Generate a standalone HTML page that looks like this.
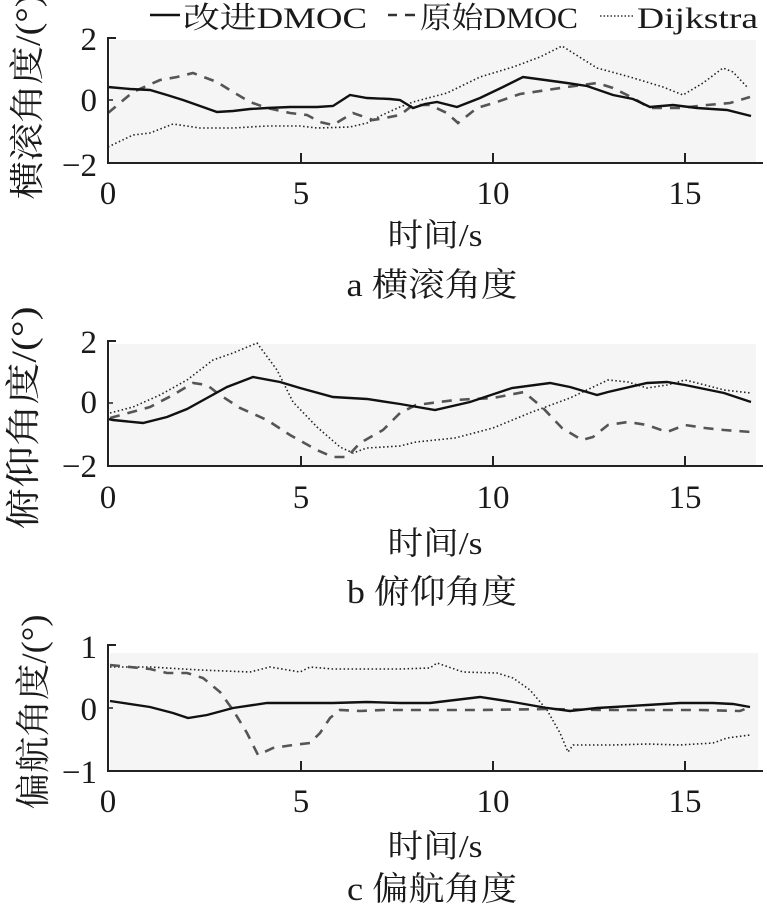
<!DOCTYPE html>
<html><head><meta charset="utf-8">
<style>
html,body{margin:0;padding:0;background:#fff;}
svg{display:block;}
.t{font-family:"Liberation Serif","Noto Serif CJK SC",serif;fill:#1a1a1a;}
</style></head>
<body>
<svg width="767" height="909" viewBox="0 0 767 909" xmlns="http://www.w3.org/2000/svg">
<!-- Legend -->
<line x1="150" y1="15" x2="180" y2="15" stroke="#111" stroke-width="2.5"/>
<text class="t" x="183" y="28" font-size="30" textLength="184" lengthAdjust="spacingAndGlyphs">改进DMOC</text>
<line x1="388" y1="15" x2="397" y2="15" stroke="#333" stroke-width="2.5"/>
<line x1="405" y1="15" x2="415" y2="15" stroke="#333" stroke-width="2.5"/>
<text class="t" x="420" y="28" font-size="30" textLength="158" lengthAdjust="spacingAndGlyphs">原始DMOC</text>
<line x1="600" y1="16" x2="634" y2="16" stroke="#333" stroke-width="1.5" stroke-dasharray="1.5,2"/>
<text class="t" x="637" y="28" font-size="30" textLength="121" lengthAdjust="spacingAndGlyphs">Dijkstra</text>

<!-- ===== Panel a ===== -->
<rect x="110" y="40" width="646" height="122" fill="#f5f5f5"/>
<polyline fill="none" stroke="#222" stroke-width="1.6" stroke-dasharray="1.5,2.5" points="108,147 133,135 150,133 173,124 200,128 233,128 267,126 300,126 317,128 350,127 367,123 380,116 400,107 413,102 447,93 480,77 513,67 540,57 562,46 597,68 630,77 663,87 683,95 703,83 723,68 733,72 748,88"/>
<polyline fill="none" stroke="#555" stroke-width="2.6" stroke-dasharray="10,8" points="108,113 133,92 160,80 177,77 193,73 217,82 233,92 250,102 267,108 290,113 307,115 320,122 333,125 353,113 373,120 385,118 400,115 413,105 430,105 447,113 458,123 477,108 497,102 520,94 547,90 567,87 597,83 613,88 633,98 650,108 680,108 707,105 730,103 750,97"/>
<polyline fill="none" stroke="#111" stroke-width="2.4" points="108,87 130,89 150,90 167,95 183,100 200,106 217,112 233,111 250,109 267,108 290,107 317,107 333,106 350,95 367,98 390,99 400,100 413,108 425,104 437,102 457,107 480,98 503,87 523,77 545,80 567,83 587,86 613,95 633,99 650,107 673,105 697,108 727,110 751,116"/>
<line x1="108" y1="37" x2="108" y2="164" stroke="#222" stroke-width="2"/>
<line x1="107" y1="163" x2="763" y2="163" stroke="#222" stroke-width="2"/>
<line x1="108" y1="38" x2="116" y2="38" stroke="#222" stroke-width="2"/>
<line x1="108" y1="100" x2="113" y2="100" stroke="#222" stroke-width="1.5"/>
<line x1="301" y1="163" x2="301" y2="153" stroke="#222" stroke-width="2"/>
<line x1="493" y1="163" x2="493" y2="153" stroke="#222" stroke-width="2"/>
<line x1="685" y1="163" x2="685" y2="153" stroke="#222" stroke-width="2"/>
<g class="t" font-size="33" text-anchor="middle">
<text x="108" y="204">0</text><text x="301" y="204">5</text><text x="493" y="204">10</text><text x="685" y="204">15</text>
</g>
<g class="t" font-size="33" text-anchor="end">
<text x="97" y="50">2</text><text x="97" y="111">0</text><text x="97" y="176">−2</text>
</g>
<text class="t" x="435" y="246" font-size="32" text-anchor="middle" textLength="95" lengthAdjust="spacingAndGlyphs">时间/s</text>
<text class="t" x="432" y="296" font-size="33" text-anchor="middle" textLength="171" lengthAdjust="spacingAndGlyphs">a 横滚角度</text>
<text class="t" transform="translate(28,97) rotate(-90)" font-size="35" text-anchor="middle" dominant-baseline="central" textLength="205" lengthAdjust="spacingAndGlyphs">横滚角度/(°)</text>

<!-- ===== Panel b ===== -->
<rect x="110" y="344" width="646" height="121" fill="#f5f5f5"/>
<polyline fill="none" stroke="#222" stroke-width="1.6" stroke-dasharray="1.5,2.5" points="110,413 133,407 160,395 187,380 213,360 233,353 257,343 277,370 293,402 317,427 340,447 353,453 367,448 400,446 416,442 455,438 493,428 532,412 570,398 608,380 628,382 647,388 667,385 685,380 705,385 724,390 751,393"/>
<polyline fill="none" stroke="#555" stroke-width="2.6" stroke-dasharray="10,8" points="110,418 150,407 173,395 193,383 207,385 220,395 240,408 267,420 290,435 317,450 333,457 347,457 360,443 383,430 400,413 416,405 455,400 493,398 524,392 543,408 562,428 582,440 593,437 608,425 628,422 647,425 667,432 685,425 705,428 724,430 751,432"/>
<polyline fill="none" stroke="#111" stroke-width="2.4" points="108,419 113,420 143,423 167,417 187,409 207,398 227,387 253,377 280,382 300,388 333,397 367,399 400,404 435,410 470,402 512,388 550,383 570,387 597,395 608,392 647,383 667,382 685,385 724,393 751,402"/>
<line x1="108" y1="340" x2="108" y2="467" stroke="#222" stroke-width="2"/>
<line x1="107" y1="466" x2="763" y2="466" stroke="#222" stroke-width="2"/>
<line x1="108" y1="341" x2="116" y2="341" stroke="#222" stroke-width="2"/>
<line x1="108" y1="403" x2="113" y2="403" stroke="#222" stroke-width="1.5"/>
<line x1="301" y1="466" x2="301" y2="456" stroke="#222" stroke-width="2"/>
<line x1="493" y1="466" x2="493" y2="456" stroke="#222" stroke-width="2"/>
<line x1="685" y1="466" x2="685" y2="456" stroke="#222" stroke-width="2"/>
<g class="t" font-size="33" text-anchor="middle">
<text x="108" y="508">0</text><text x="301" y="508">5</text><text x="493" y="508">10</text><text x="685" y="508">15</text>
</g>
<g class="t" font-size="33" text-anchor="end">
<text x="97" y="353">2</text><text x="97" y="413">0</text><text x="97" y="477">−2</text>
</g>
<text class="t" x="435" y="554" font-size="32" text-anchor="middle" textLength="95" lengthAdjust="spacingAndGlyphs">时间/s</text>
<text class="t" x="432" y="603" font-size="33" text-anchor="middle" textLength="170" lengthAdjust="spacingAndGlyphs">b 俯仰角度</text>
<text class="t" transform="translate(24,418) rotate(-90)" font-size="35" text-anchor="middle" dominant-baseline="central" textLength="223" lengthAdjust="spacingAndGlyphs">俯仰角度/(°)</text>

<!-- ===== Panel c ===== -->
<rect x="110" y="653" width="648" height="117" fill="#f5f5f5"/>
<polyline fill="none" stroke="#222" stroke-width="1.6" stroke-dasharray="1.5,2.5" points="110,667 150,667 200,670 250,672 270,667 300,672 310,667 333,669 400,669 430,668 437,663 463,672 497,673 513,678 530,690 547,710 560,733 568,752 573,745 613,745 647,744 680,745 713,743 727,738 750,735"/>
<polyline fill="none" stroke="#555" stroke-width="2.6" stroke-dasharray="10,8" points="110,665 150,669 167,673 187,673 203,678 220,692 233,710 247,733 258,755 273,748 293,745 310,743 320,733 330,718 340,710 360,711 383,710 430,710 480,710 547,709 600,710 700,710 740,711 750,707"/>
<polyline fill="none" stroke="#111" stroke-width="2.4" points="110,701 150,707 173,713 188,718 207,715 233,708 267,703 300,703 333,703 367,702 400,703 430,703 480,697 513,702 547,708 570,711 597,708 647,705 680,703 713,703 733,704 750,707"/>
<line x1="108" y1="644" x2="108" y2="772" stroke="#222" stroke-width="2"/>
<line x1="107" y1="771" x2="763" y2="771" stroke="#222" stroke-width="2"/>
<line x1="108" y1="645" x2="116" y2="645" stroke="#222" stroke-width="2"/>
<line x1="108" y1="708" x2="113" y2="708" stroke="#222" stroke-width="1.5"/>
<line x1="301" y1="771" x2="301" y2="761" stroke="#222" stroke-width="2"/>
<line x1="493" y1="771" x2="493" y2="761" stroke="#222" stroke-width="2"/>
<line x1="685" y1="771" x2="685" y2="761" stroke="#222" stroke-width="2"/>
<g class="t" font-size="33" text-anchor="middle">
<text x="108" y="812">0</text><text x="301" y="812">5</text><text x="493" y="812">10</text><text x="685" y="812">15</text>
</g>
<g class="t" font-size="33" text-anchor="end">
<text x="97" y="658">1</text><text x="97" y="720">0</text><text x="97" y="783">−1</text>
</g>
<text class="t" x="435" y="857" font-size="32" text-anchor="middle" textLength="95" lengthAdjust="spacingAndGlyphs">时间/s</text>
<text class="t" x="432" y="900" font-size="33" text-anchor="middle" textLength="170" lengthAdjust="spacingAndGlyphs">c 偏航角度</text>
<text class="t" transform="translate(34,712) rotate(-90)" font-size="35" text-anchor="middle" dominant-baseline="central" textLength="195" lengthAdjust="spacingAndGlyphs">偏航角度/(°)</text>
</svg>
</body></html>
